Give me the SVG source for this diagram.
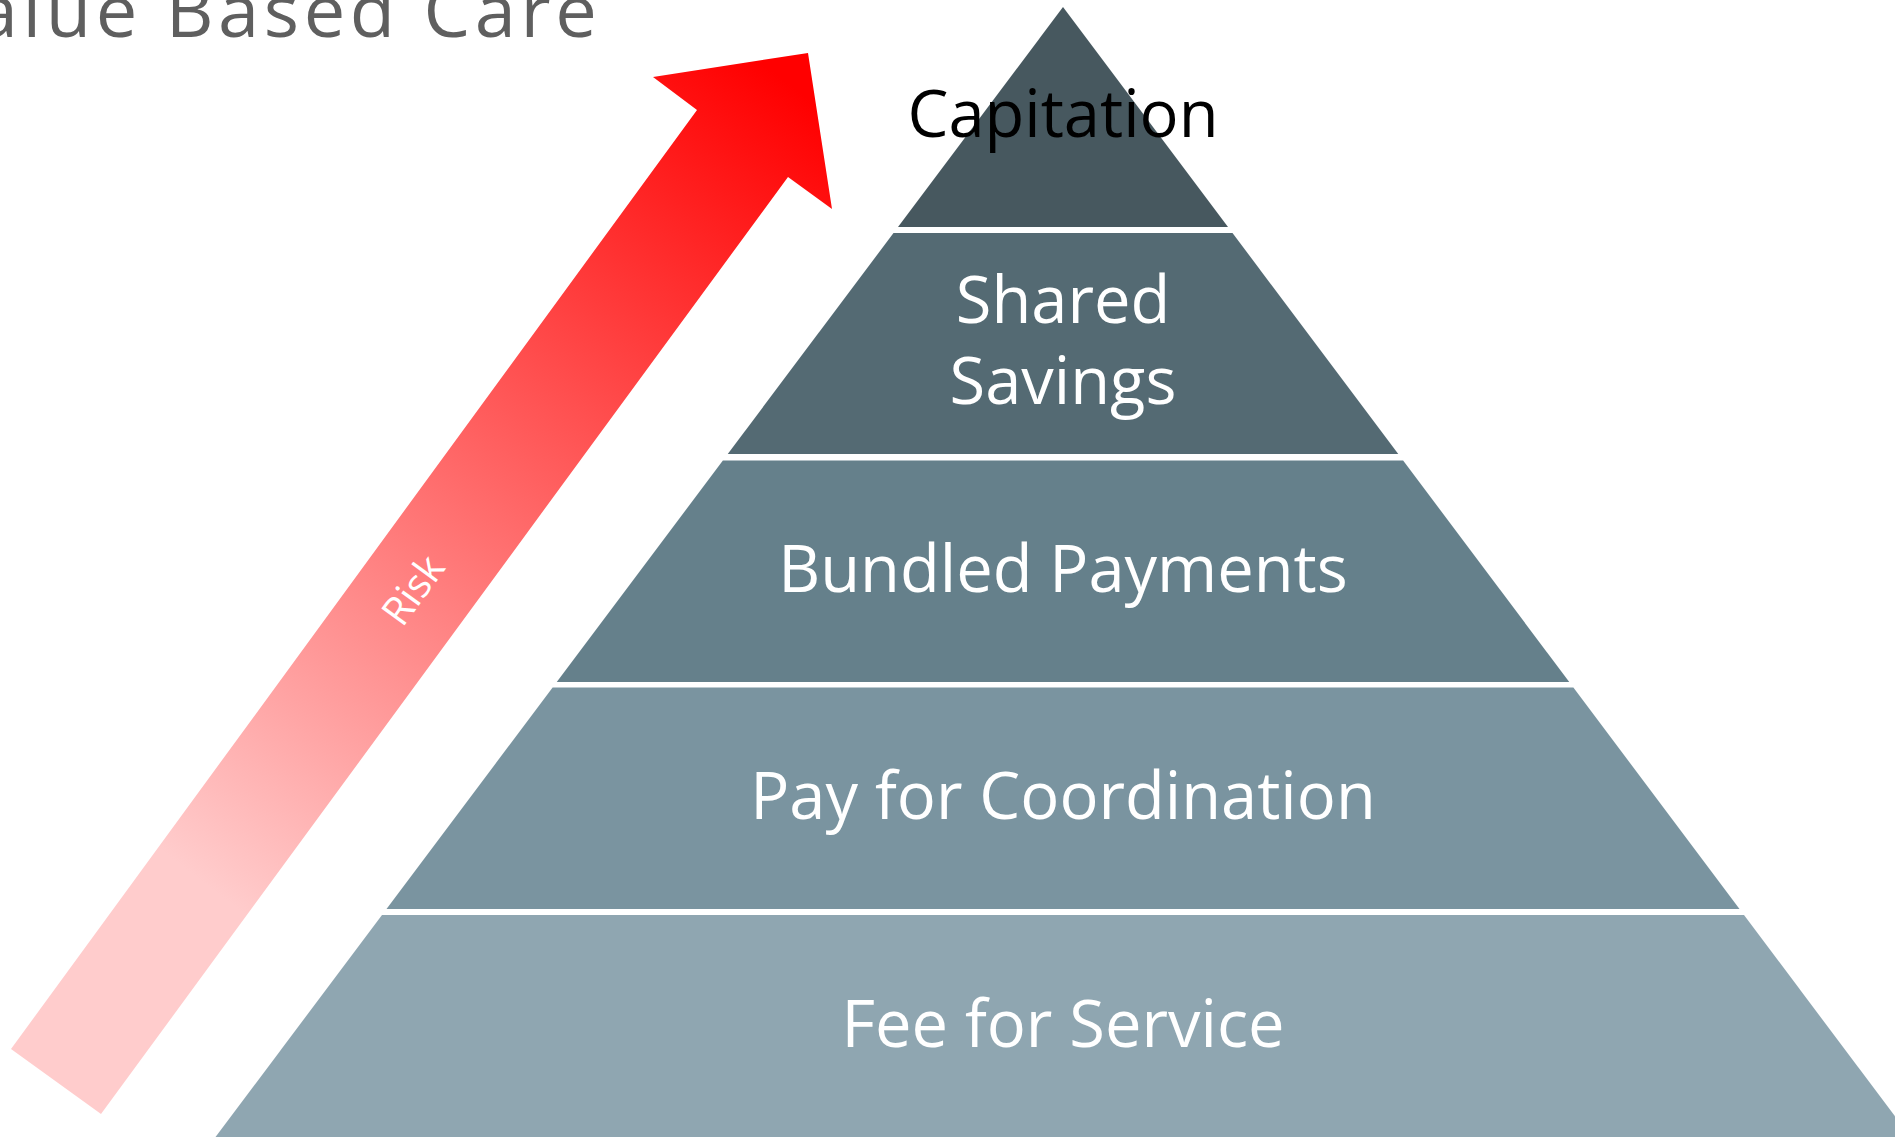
<svg xmlns="http://www.w3.org/2000/svg" width="1895" height="1137" viewBox="0 0 1895 1137">
  <defs>
    <linearGradient id="riskGrad" gradientUnits="userSpaceOnUse" x1="55" y1="1081" x2="810" y2="100">
      <stop offset="0" stop-color="#FFCCCC"/>
      <stop offset="0.2" stop-color="#FFCCCC"/>
      <stop offset="1" stop-color="#FF0000"/>
    </linearGradient>
    <style>
      .lbl { font-family: "Open Sans", "Noto Sans", "Liberation Sans", sans-serif; font-size: 65px; fill: #FFFFFF; text-anchor: middle; }
      .dark { fill: #000000; }
      .title { font-family: "Open Sans", "Noto Sans", "Liberation Sans", sans-serif; font-size: 74px; fill: #5F5F5F; letter-spacing: 4.6px; }
      .risk { font-family: "Open Sans", "Noto Sans", "Liberation Sans", sans-serif; font-size: 40px; fill: #FFFFFF; text-anchor: middle; }
    </style>
  </defs>
  <rect width="1895" height="1137" fill="#FFFFFF"/>

  <g id="title">
    <text class="title" x="-72" y="37">Value Based Care</text>
  </g>

  <g id="risk-arrow">
    <polygon points="808,53 832,209 788,177 101,1114 11,1049 697,110 653,77" fill="url(#riskGrad)"/>
    <text class="risk" transform="translate(413,590) rotate(-54)" x="0" y="14">Risk</text>
  </g>

  <g id="connectors"></g>

  <g id="layer-fee-for-service">
    <polygon points="382,915 1744,915 1913.5,1141 212.5,1141" fill="#8FA6B1"/>
    <text class="lbl" x="1063" y="1047">Fee for Service</text>
  </g>

  <g id="layer-pay-for-coordination">
    <polygon points="552.6,687.5 1573.4,687.5 1739.5,909 386.5,909" fill="#7A94A0"/>
    <text class="lbl" x="1063" y="819">Pay for Coordination</text>
  </g>

  <g id="layer-bundled-payments">
    <polygon points="722.9,460.5 1403.1,460.5 1569.25,682 556.75,682" fill="#65808B"/>
    <text class="lbl" x="1063" y="592">Bundled Payments</text>
  </g>

  <g id="layer-shared-savings">
    <polygon points="893.5,233 1232.5,233 1398.25,454 727.75,454" fill="#546A73"/>
    <text class="lbl" x="1063" y="323">Shared</text>
    <text class="lbl" x="1063" y="404">Savings</text>
  </g>

  <g id="layer-capitation">
    <polygon points="1063,7 1228,227 898,227" fill="#47585F"/>
    <text class="lbl dark" x="1063" y="137">Capitation</text>
  </g>
</svg>
